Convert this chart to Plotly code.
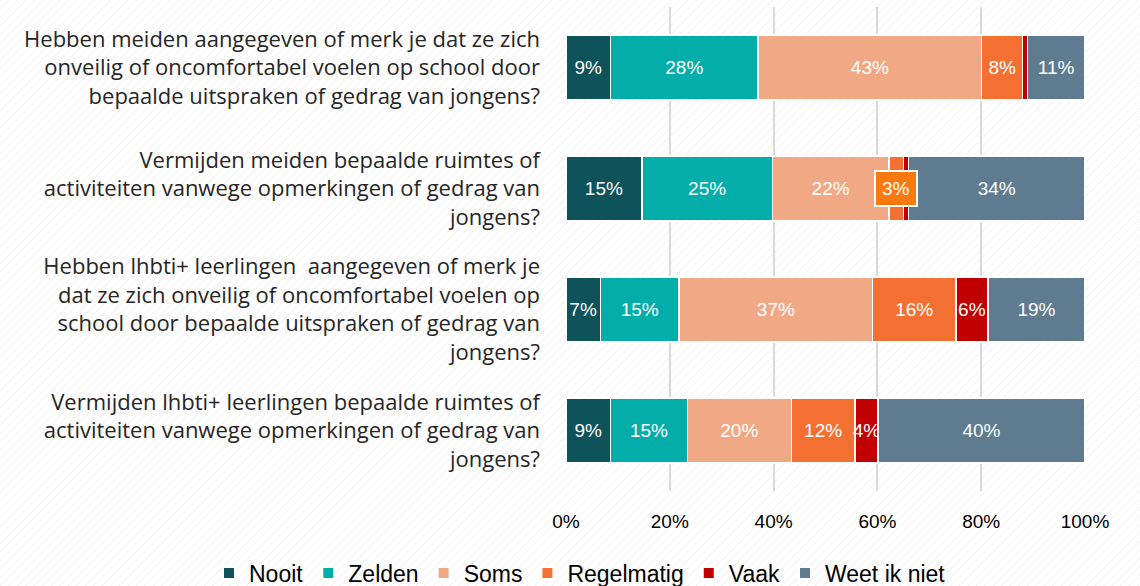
import base64
import plotly.graph_objects as go

# questions, top to bottom
questions = [
    "Hebben meiden aangegeven of merk je dat ze zich<br>onveilig of oncomfortabel voelen op school door<br>bepaalde uitspraken of gedrag van jongens?",
    "Vermijden meiden bepaalde ruimtes of<br>activiteiten vanwege opmerkingen of gedrag van<br>jongens?",
    "Hebben lhbti+ leerlingen  aangegeven of merk je<br>dat ze zich onveilig of oncomfortabel voelen op<br>school door bepaalde uitspraken of gedrag van<br>jongens?",
    "Vermijden lhbti+ leerlingen bepaalde ruimtes of<br>activiteiten vanwege opmerkingen of gedrag van<br>jongens?",
]

# percentages per answer, same order as questions
nooit = [8.6, 14.6, 6.6, 8.6]
zelden = [28.4, 25.2, 15.2, 14.8]
soms = [43.1, 22.4, 37.3, 20.0]
regelmatig = [7.9, 2.8, 16.0, 12.3]
vaak = [0.9, 1.0, 6.2, 4.4]
weet_niet = [11.1, 34.0, 18.7, 39.9]

x_ticks = [0, 20, 40, 60, 80, 100]

series = [
    ("Nooit", nooit, "#0E525A"),
    ("Zelden", zelden, "#03ADAA"),
    ("Soms", soms, "#F1A985"),
    ("Regelmatig", regelmatig, "#F37032"),
    ("Vaak", vaak, "#C00000"),
    ("Weet ik niet", weet_niet, "#5E7B90"),
]

W, H = 1140, 586
ML, MR, MT, MB = 566, 55, 7, 95
PW, PH = W - ML - MR, H - MT - MB

fig = go.Figure()
for name, vals, col in series:
    labels = [f"{round(v)}%" if v >= 3 else "" for v in vals]
    fig.add_trace(go.Bar(
        name=name, y=questions, x=vals, orientation="h",
        marker=dict(color=col, line=dict(color="white", width=1.5)),
        text=labels, textposition="inside", insidetextanchor="middle",
        textangle=0, constraintext="none",
        textfont=dict(color="white", size=19, family="Liberation Sans, Arial"),
        width=0.54,
    ))

# callout for the small Regelmatig segment in question 2
q = 1
mid = nooit[q] + zelden[q] + soms[q] + regelmatig[q] / 2
fig.add_annotation(
    x=mid, y=questions[q], xref="x", yref="y",
    text=f"{round(regelmatig[q])}%", showarrow=False,
    font=dict(color="white", size=19, family="Liberation Sans, Arial"),
    bgcolor="#FB7A10", bordercolor="white", borderwidth=2, borderpad=6,
)

# diagonal hatch background
svg = (
    f'<svg xmlns="http://www.w3.org/2000/svg" width="{W}" height="{H}">'
    '<defs><pattern id="h" width="6" height="6" patternUnits="userSpaceOnUse" '
    'patternTransform="rotate(45)"><line x1="0" y1="0" x2="0" y2="6" '
    'stroke="#E6E6E6" stroke-width="1"/></pattern></defs>'
    '<rect width="100%" height="100%" fill="#ffffff"/>'
    '<rect width="100%" height="100%" fill="url(#h)"/></svg>'
)
src = "data:image/svg+xml;base64," + base64.b64encode(svg.encode()).decode()
fig.add_layout_image(
    source=src, xref="paper", yref="paper",
    x=-ML / PW, y=1 + MT / PH, sizex=W / PW, sizey=H / PH,
    xanchor="left", yanchor="top", sizing="stretch", layer="below",
)

fig.update_layout(
    width=W, height=H,
    barmode="stack",
    margin=dict(l=ML, r=MR, t=MT, b=MB, autoexpand=False),
    paper_bgcolor="white", plot_bgcolor="rgba(0,0,0,0)",
    font=dict(family="Liberation Sans, Arial", color="#262626"),
    uniformtext=dict(minsize=19, mode="show"),
    showlegend=True,
    legend=dict(
        orientation="h", traceorder="normal",
        x=(209 - ML) / PW, xanchor="left",
        y=-(573 - (H - MB)) / PH, yanchor="middle",
        font=dict(size=23, family="Liberation Sans, Arial", color="#000000"),
        bgcolor="rgba(0,0,0,0)", itemsizing="constant",
    ),
)
fig.update_xaxes(
    range=[0, 100], tickvals=x_ticks, ticktext=[f"{t}%" for t in x_ticks],
    showgrid=True, gridcolor="#D9D9D9", gridwidth=2, zeroline=False,
    showline=False, tickfont=dict(size=19, color="#000000"),
    ticklabelstandoff=17, fixedrange=True,
)
fig.update_yaxes(
    autorange="reversed", showgrid=False, showline=False,
    tickfont=dict(size=22, color="#262626", family="Open Sans"),
    ticklabelstandoff=25, automargin=False,
)

fig.write_html("out.html", config={"displayModeBar": False},
               post_script="document.body.style.margin='0';")
